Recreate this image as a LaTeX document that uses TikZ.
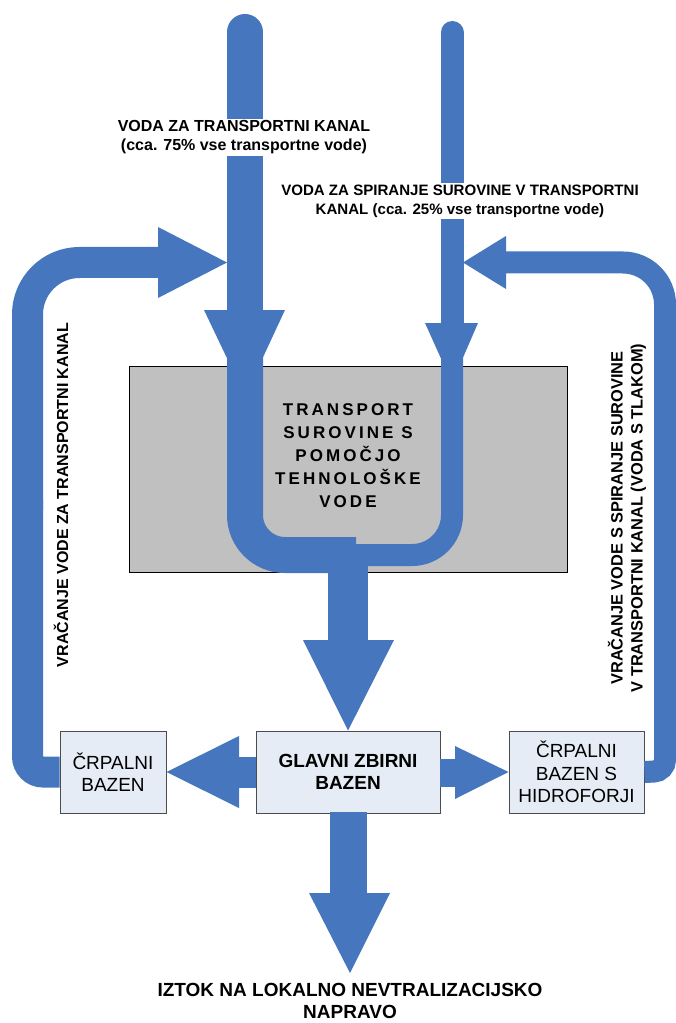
\documentclass[tikz,border=0pt]{standalone}
\usepackage{fontspec}
\setmainfont{Liberation Sans}
\newfontfamily\razmik[LetterSpace=18]{Liberation Sans}

\definecolor{cevmodra}{RGB}{70,119,190}
\definecolor{bazenmodra}{RGB}{230,236,246}
\definecolor{transsiva}{RGB}{192,192,192}

\tikzset{
  cev/.style={draw=cevmodra, line width=#1},
  glava/.style={fill=cevmodra},
  bazen/.style={draw=black!70, fill=bazenmodra, line width=0.75pt, minimum height=61.5pt,
    inner sep=0pt, align=center, font=\fontsize{14.25}{16.5}\selectfont},
  napis/.style={fill=white, inner sep=1pt, align=center, font=\bfseries\fontsize{12}{14.25}\selectfont},
}

\begin{document}
\begin{tikzpicture}[x=0.75pt,y=-0.75pt]
\useasboundingbox (0,0) rectangle (675,1023);

% transport in bazeni
\node[draw=black, line width=0.75pt, fill=transsiva, minimum width=328.5pt, minimum height=154.5pt] (transport) at (348,469) {};
\node[bazen, minimum width=138pt, font=\bfseries\fontsize{14.25}{16.5}\selectfont] (glavni) at (348,772) {GLAVNI ZBIRNI\\BAZEN};
\node[bazen, minimum width=79.5pt] (crpalni) at (113,772) {ČRPALNI\\BAZEN};
\node[bazen, minimum width=101.25pt, font=\fontsize{14.25}{17}\selectfont] (hidrofor) at (576.5,772) {ČRPALNI\\BAZEN S\\HIDROFORJI};

% dotok vode od zgoraj
\draw[cev=27pt, line cap=round] (245,32) -- (245,312);
\fill[glava] (204,310) -- (285,310) -- (245,396) -- cycle;
\draw[cev=17.25pt, line cap=round] (452,32.5) -- (452,325);
\fill[glava] (425,323) -- (478,323) -- (452,383) -- cycle;

% U cevi skozi transport
\draw[cev=27pt, rounded corners=30pt] (245,356) -- (245,555) -- (356,555);
\draw[cev=16.5pt, rounded corners=30pt] (452,356) -- (452,555) -- (350,555);
\fill[glava] (328,550) rectangle (368,641);
\fill[glava] (303,640) -- (394,640) -- (glavni.north) -- cycle;

% iz glavnega zbirnega bazena
\fill[glava] (239,757) rectangle (256,788);
\fill[glava] (239,736) -- (239,808) -- (crpalni.east) -- cycle;
\fill[glava] (440,759) rectangle (456,787);
\fill[glava] (455,746) -- (455,799) -- (hidrofor.west) -- cycle;
\fill[glava] (330,812) rectangle (367,894);
\fill[glava] (309,893) -- (390,893) -- (350,973) -- cycle;

% vracanje vode
\draw[cev=23.25pt, rounded corners=11.6pt] (crpalni.west) -- (27.5,772) -- (27.5,500);
\draw[cev=23.25pt, rounded corners=39pt] (27.5,510) -- (27.5,262.5) -- (159,262.5);
\fill[glava] (158,227) -- (158,298) -- (227,262.5) -- cycle;
\draw[cev=16.5pt, rounded corners=8.25pt] (hidrofor.east) -- (665,771) -- (665,500);
\draw[cev=16.5pt, rounded corners=31.5pt] (665,510) -- (665,262.5) -- (505,262.5);
\fill[glava] (506,236) -- (506,289) -- (463,262.5) -- cycle;

% napisi
\node[napis] (vodakanal) at (244,137.5) {VODA ZA TRANSPORTNI KANAL\\(cca. 75\% vse transportne vode)};
\node[napis, font=\bfseries\fontsize{11.3}{14.25}\selectfont] (vodaspiranje) at (460,201) {VODA ZA SPIRANJE SUROVINE V TRANSPORTNI\\KANAL (cca. 25\% vse transportne vode)};
\node[font=\razmik\bfseries\fontsize{12.75}{17.25}\selectfont, align=center] (transporttekst) at (348,456) {TRANSPORT\\SUROVINE S\\POMOČJO\\TEHNOLOŠKE\\VODE};
\node[rotate=90, font=\bfseries\fontsize{12}{14.25}\selectfont] (vracanjelevo) at (61,495) {VRAČANJE VODE ZA TRANSPORTNI KANAL};
\node[rotate=90, align=center, font=\bfseries\fontsize{12.3}{15}\selectfont] (vracanjedesno) at (627,518) {VRAČANJE VODE S SPIRANJE SUROVINE\\V TRANSPORTNI KANAL (VODA S TLAKOM)};
\node[align=center, inner sep=1pt, font=\bfseries\fontsize{14.25}{16}\selectfont] (iztok) at (350,1001) {IZTOK NA LOKALNO NEVTRALIZACIJSKO\\NAPRAVO};
\end{tikzpicture}
\end{document}
